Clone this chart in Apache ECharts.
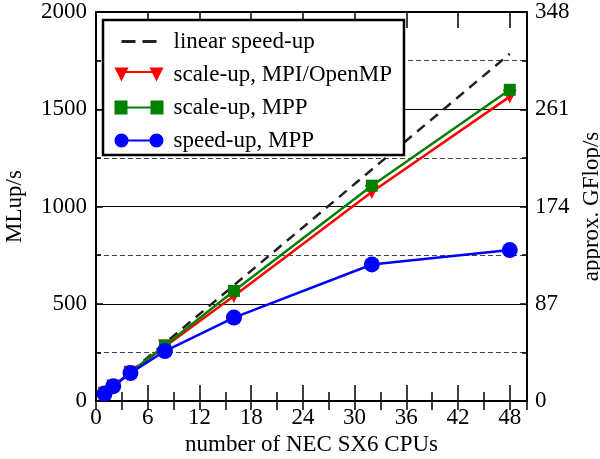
<!DOCTYPE html>
<html>
<head>
<meta charset="utf-8">
<title>NEC SX6 scaling</title>
<script src="https://cdn.jsdelivr.net/npm/echarts@6/dist/echarts.min.js"></script>
<style>
    html, body { margin: 0; padding: 0; background: #fff; }
    #chart { width: 600px; height: 459px; }
</style>
</head>
<body>
<div id="chart"></div>
<script>
// 数据
var cpus = [1, 2, 4, 8, 16, 32, 48];
var linearSpeedup = [37, 74, 149, 298, 595, 1190, 1785];
var scaleMpiOmp = [37, 74, 145, 280, 540, 1075, 1565];
var scaleMpp = [38, 76, 148, 285, 566, 1107, 1600];
var speedMpp = [38, 76, 144, 257, 429, 702, 776];
var rightTicks = [0, 87, 174, 261, 348];

var names = ['linear speed-up', 'scale-up, MPI/OpenMP', 'scale-up, MPP', 'speed-up, MPP'];

function pairs(xs, ys) {
    return xs.map(function (x, i) { return [x, ys[i]]; });
}

var font = "'Liberation Serif', 'Times New Roman', serif";
var fs = 23;

// legend icons: marker - line - marker
var iconTri = 'path://M0 0L14 0L7 14Z M35 0L49 0L42 14Z M7 3.5L42 3.5L42 5.5L7 5.5Z';
var iconSq = 'path://M0 0L13 0L13 14L0 14Z M36 0L49 0L49 14L36 14Z M6 6L43 6L43 8L6 8Z';
var iconCir = 'path://M0 7A7 7 0 1 1 14 7A7 7 0 1 1 0 7Z M35 7A7 7 0 1 1 49 7A7 7 0 1 1 35 7Z M7 6L42 6L42 8L7 8Z';

var myChart = echarts.init(document.getElementById('chart'));

var tickLine = { color: '#000', width: 1.5 };
var axisLine = { show: true, onZero: false, lineStyle: { color: '#000', width: 2 } };

var option = {
    animation: false,
    textStyle: { fontFamily: font, color: '#000' },
    grid: { left: 96, right: 73, top: 12, bottom: 58, outerBoundsMode: 'none', containLabel: false },
    legend: {
        orient: 'vertical',
        left: 103,
        top: 20,
        padding: [10, 12, 3, 10],
        itemWidth: 49,
        itemHeight: 14,
        itemGap: 10,
        borderColor: '#000',
        borderWidth: 2.5,
        borderRadius: 0,
        backgroundColor: '#fff',
        textStyle: { fontFamily: font, fontSize: fs, color: '#000', lineHeight: 20, padding: [0, 0, 0, 5] },
        data: [
            { name: names[0], itemStyle: { opacity: 0 }, lineStyle: { type: [14, 7], dashOffset: 14, width: 3 } },
            { name: names[1], icon: iconTri },
            { name: names[2], icon: iconSq },
            { name: names[3], icon: iconCir }
        ]
    },
    xAxis: [
        {
            type: 'value', min: 0, max: 50, interval: 6, position: 'bottom',
            name: 'number of NEC SX6 CPUs', nameLocation: 'middle', nameGap: 29,
            nameTextStyle: { fontFamily: font, fontSize: fs, color: '#000' },
            axisLine: axisLine,
            axisTick: { inside: true, length: 16, lineStyle: tickLine },
            axisLabel: { fontFamily: font, fontSize: fs, color: '#000', margin: 5, showMaxLabel: false },
            splitLine: { show: false }
        },
        {
            type: 'value', min: 0, max: 50, interval: 3, position: 'bottom',
            axisLine: { show: false },
            axisTick: { inside: true, length: 9, lineStyle: tickLine },
            axisLabel: { show: false },
            splitLine: { show: false }
        },
        {
            type: 'value', min: 0, max: 50, interval: 6, position: 'top',
            axisLine: axisLine,
            axisTick: { inside: true, length: 16, lineStyle: tickLine },
            axisLabel: { show: false },
            splitLine: { show: false }
        },
        {
            type: 'value', min: 0, max: 50, interval: 3, position: 'top',
            axisLine: { show: false },
            axisTick: { inside: true, length: 9, lineStyle: tickLine },
            axisLabel: { show: false },
            splitLine: { show: false }
        }
    ],
    yAxis: [
        {
            type: 'value', min: 0, max: 2000, interval: 500, position: 'left',
            name: 'MLup/s', nameLocation: 'middle', nameGap: 70,
            nameTextStyle: { fontFamily: font, fontSize: fs, color: '#000' },
            axisLine: axisLine,
            axisTick: { inside: true, length: 7, lineStyle: tickLine },
            minorTick: { show: true, splitNumber: 2, length: 5, lineStyle: tickLine },
            axisLabel: {
                fontFamily: font, fontSize: fs, color: '#000', margin: 9,
                formatter: function (v) { return String(v); }
            },
            splitLine: { show: true, lineStyle: { color: '#000', width: 1 } },
            minorSplitLine: { show: true, lineStyle: { color: '#444', width: 1, type: [5, 3] } }
        },
        {
            type: 'value', min: rightTicks[0], max: rightTicks[rightTicks.length - 1],
            interval: rightTicks[1] - rightTicks[0], position: 'right',
            name: 'approx. GFlop/s', nameLocation: 'middle', nameGap: 49,
            nameTextStyle: { fontFamily: font, fontSize: fs, color: '#000' },
            axisLine: axisLine,
            axisTick: { inside: true, length: 7, lineStyle: tickLine },
            minorTick: { show: true, splitNumber: 2, length: 5, lineStyle: tickLine },
            axisLabel: { fontFamily: font, fontSize: fs, color: '#000', margin: 8 },
            splitLine: { show: false }
        }
    ],
    series: [
        {
            name: names[0], type: 'line', symbol: 'none',
            lineStyle: { color: '#222', width: 2.5, type: [10, 7] },
            itemStyle: { color: '#222' },
            data: pairs(cpus, linearSpeedup)
        },
        {
            name: names[1], type: 'line', symbol: 'triangle', symbolRotate: 180, symbolSize: 14,
            lineStyle: { color: '#ff0000', width: 2.5 },
            itemStyle: { color: '#ff0000' },
            data: pairs(cpus, scaleMpiOmp)
        },
        {
            name: names[2], type: 'line', symbol: 'rect', symbolSize: 12,
            lineStyle: { color: '#008000', width: 2.5 },
            itemStyle: { color: '#008000' },
            data: pairs(cpus, scaleMpp)
        },
        {
            name: names[3], type: 'line', symbol: 'circle', symbolSize: 16,
            lineStyle: { color: '#0000ff', width: 2.5 },
            itemStyle: { color: '#0000ff' },
            data: pairs(cpus, speedMpp)
        }
    ]
};

myChart.setOption(option);
</script>
</body>
</html>
